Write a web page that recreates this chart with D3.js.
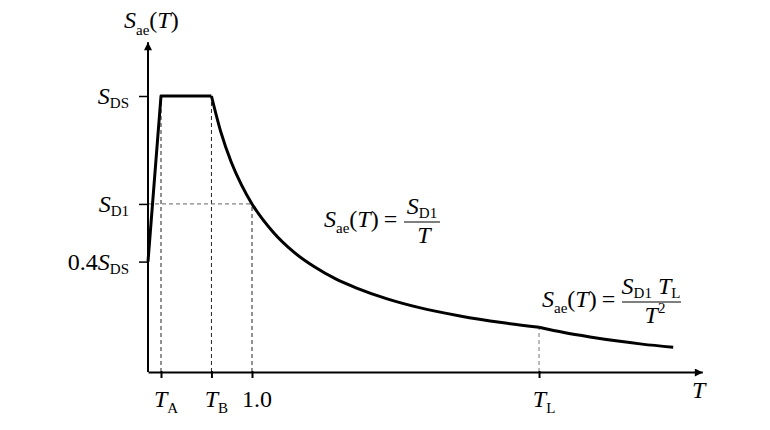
<!DOCTYPE html>
<html>
<head>
<meta charset="utf-8">
<script src="https://cdn.jsdelivr.net/npm/d3@7"></script>
<style>
  html, body { margin: 0; padding: 0; background: #fff; }
</style>
</head>
<body>
<svg id="chart" width="770" height="430"></svg>
<script>
// ---------- data (normalised: S_DS = 1) ----------
const riseT   = [0, 0.125, 0.61];
const riseSa  = [0.40, 1.00, 1.00];
const branch1T  = [0.61, 0.70, 0.80, 0.90, 1.00, 1.20, 1.40, 1.60, 1.80, 2.00, 2.30, 2.60, 3.00, 3.40, 3.76];
const branch1Sa = [1.00, 0.870, 0.761, 0.677, 0.609, 0.508, 0.435, 0.381, 0.338, 0.305, 0.265, 0.234, 0.203, 0.179, 0.162];
const branch2T  = [3.76, 4.00, 4.25, 4.50, 4.75, 5.05];
const branch2Sa = [0.162, 0.143, 0.127, 0.113, 0.101, 0.090];

const xTickValues = [0.125, 0.61, 1.0, 3.76];
const xTickLabels = [
  [["T","i"],["A","s"]],
  [["T","i"],["B","s"]],
  [["1.0","r"]],
  [["T","i"],["L","s"]]
];
const yTickValues = [1.0, 0.609, 0.4];
const yTickLabels = [
  [["S","i"],["DS","s"]],
  [["S","i"],["D1","s"]],
  [["0.4","r"],["S","i"],["DS","s"]]
];
const xMax = 5.33, yMax = 1.195;

// ---------- scales ----------
const x = d3.scaleLinear().domain([0, xMax]).range([148, 148 + xMax * 104]);
const y = d3.scaleLinear().domain([0, 1]).range([372, 96]);

const svg = d3.select("#chart");
const FONT = "'Liberation Serif', 'DejaVu Serif', 'Times New Roman', serif";
const F = 24, FS = 15;

function rich(textSel, parts, subDy) {
  subDy = subDy || 5;
  textSel.attr("font-family", FONT).attr("fill", "#000").attr("font-size", F);
  let shifted = 0;
  parts.forEach(([t, s]) => {
    const ts = textSel.append("tspan").text(t).attr("font-family", FONT);
    if (s === "i") ts.attr("font-style", "italic").attr("font-size", F);
    else if (s === "r" || s === "e") ts.attr("font-size", F);
    if (s === "e") ts.attr("dx", 5);
    let target = 0;
    if (s === "s") { ts.attr("font-size", FS); target = subDy; }
    if (s === "p") { ts.attr("font-size", FS); target = -10; }
    ts.attr("dy", target - shifted);
    shifted = target;
  });
  return textSel;
}

// arrow markers
const defs = svg.append("defs");
defs.append("marker").attr("id", "arrow")
  .attr("markerUnits", "userSpaceOnUse")
  .attr("viewBox", "0 0 10 10").attr("refX", 10).attr("refY", 5)
  .attr("markerWidth", 9).attr("markerHeight", 8).attr("orient", "auto")
  .append("path").attr("d", "M0,0L10,5L0,10Z").attr("fill", "#000");

// ---------- guide lines (dashed) ----------
const allT = riseT.concat(branch1T, branch2T);
const allSa = riseSa.concat(branch1Sa, branch2Sa);
function saAt(t) { return allSa[allT.indexOf(t)]; }

const guides = svg.append("g").attr("fill", "none").attr("stroke-width", 1).attr("stroke-dasharray", "4,3");
xTickValues.forEach((t, i) => {
  guides.append("line")
    .attr("x1", x(t)).attr("x2", x(t))
    .attr("y1", y(0)).attr("y2", y(saAt(t)))
    .attr("stroke", i === 3 ? "#777" : "#222");
});
guides.append("line")
  .attr("x1", x(0)).attr("x2", x(1.0))
  .attr("y1", y(yTickValues[1])).attr("y2", y(yTickValues[1]))
  .attr("stroke", "#666");

// ---------- axes ----------
const xAxis = d3.axisBottom(x).tickValues(xTickValues).tickFormat("").tickSize(6).tickSizeOuter(0);
const gx = svg.append("g").attr("transform", `translate(0,${y(0)})`).call(xAxis);
gx.select(".domain").attr("stroke-width", 2).attr("marker-end", "url(#arrow)");
gx.selectAll(".tick line").attr("stroke-width", 2).attr("y1", -1);

const yAxis = d3.axisLeft(y).tickValues(yTickValues).tickFormat("").tickSize(9).tickSizeOuter(0);
const gy = svg.append("g").attr("transform", `translate(${x(0)},0)`).call(yAxis);
gy.select(".domain").attr("d", `M0,${y(0)}V${y(yMax)}`).attr("stroke-width", 2).attr("marker-end", "url(#arrow)");
gy.selectAll(".tick line").attr("stroke-width", 1.5);

// tick labels
xTickValues.forEach((t, i) => {
  rich(svg.append("text").attr("x", x(t) + 5).attr("y", 407).attr("text-anchor", "middle"), xTickLabels[i], 6);
});
yTickValues.forEach((v, i) => {
  rich(svg.append("text").attr("x", 129).attr("y", y(v) + 8).attr("text-anchor", "end"), yTickLabels[i], 4);
});

// axis titles
rich(svg.append("text").attr("x", 124).attr("y", 28), [["S","i"],["ae","s"],["(","r"],["T","i"],[")","r"]], 7);
rich(svg.append("text").attr("x", 692).attr("y", 398), [["T","i"]]);

// ---------- spectrum curve ----------
const lineLin = d3.line().x(d => x(d[0])).y(d => y(d[1]));
const lineMono = d3.line().x(d => x(d[0])).y(d => y(d[1])).curve(d3.curveMonotoneX);
const curveG = svg.append("g").attr("fill", "none").attr("stroke", "#000").attr("stroke-width", 3)
  .attr("stroke-linejoin", "round");
curveG.append("path").attr("d", lineLin(riseT.map((t, i) => [t, riseSa[i]])));
curveG.append("path").attr("d", lineMono(branch1T.map((t, i) => [t, branch1Sa[i]])));
curveG.append("path").attr("d", lineMono(branch2T.map((t, i) => [t, branch2Sa[i]])));

// ---------- formulas ----------
// formula 1: S_ae(T) = S_D1 / T
rich(svg.append("text").attr("x", 324).attr("y", 227), [["S","i"],["ae","s"],["(","r"],["T","i"],[")","r"],["=","e"]], 6);
rich(svg.append("text").attr("x", 422).attr("y", 214).attr("text-anchor", "middle"), [["S","i"],["D1","s"]], 4);
svg.append("line").attr("x1", 404).attr("x2", 440).attr("y1", 222).attr("y2", 222).attr("stroke", "#000").attr("stroke-width", 1.2);
rich(svg.append("text").attr("x", 424).attr("y", 243).attr("text-anchor", "middle"), [["T","i"]]);

// formula 2: S_ae(T) = S_D1 T_L / T^2
rich(svg.append("text").attr("x", 542).attr("y", 307), [["S","i"],["ae","s"],["(","r"],["T","i"],[")","r"],["=","e"]], 6);
rich(svg.append("text").attr("x", 651).attr("y", 294).attr("text-anchor", "middle"), [["S","i"],["D1","s"],[" ","r"],["T","i"],["L","s"]], 4);
svg.append("line").attr("x1", 622).attr("x2", 681).attr("y1", 302).attr("y2", 302).attr("stroke", "#000").attr("stroke-width", 1.2);
rich(svg.append("text").attr("x", 655).attr("y", 323).attr("text-anchor", "middle"), [["T","i"],["2","p"]]);
</script>
</body>
</html>
